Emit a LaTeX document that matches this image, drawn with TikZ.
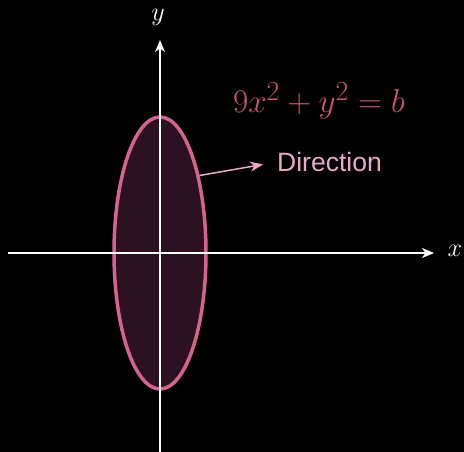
\documentclass[tikz,border=0pt]{standalone}
\usepackage{fontspec}
\setsansfont{Liberation Sans}
\usetikzlibrary{arrows.meta,shapes.geometric}
\definecolor{strokepink}{HTML}{D4648E}
\definecolor{fillplum}{HTML}{2C1120}
\definecolor{eqpink}{HTML}{C8527E}
\definecolor{lightpink}{HTML}{EBA9C9}
\begin{document}
\begin{tikzpicture}[x=1pt,y=-1pt,
  axis/.style={draw=white, line width=1.3pt, -{Stealth[length=12pt,width=10pt,inset=3.5pt]}},
  axlabel/.style={text=white, font=\Huge, inner sep=0pt},
  dirarrow/.style={draw=lightpink, line width=1.5pt, -{Stealth[length=13pt,width=10pt,inset=4pt]}}]
\fill[black] (0,0) rectangle (464,452);
\useasboundingbox (0,0) rectangle (464,452);
\node[draw=strokepink, fill=fillplum, line width=3.5pt, ellipse, minimum width=92pt, minimum height=272pt, inner sep=0pt] (ell) at (160,253) {};
\coordinate (xs) at (8,253);
\coordinate (xe) at (434,253);
\coordinate (ys) at (160,452);
\coordinate (ye) at (160,40);
\draw[axis] (xs) -- (xe);
\draw[axis] (ys) -- (ye);
\node[axlabel] (xl) at (455,251) {\scalebox{1.05}{$x$}};
\node[axlabel] (yl) at (158,17) {\scalebox{1.05}{$y$}};
\node[text=eqpink, font=\Huge, inner sep=0pt] (eq) at (319,101) {\scalebox{1.33}{$9x^2+y^2=b$}};
\node[text=lightpink, font=\sffamily\fontsize{26.5}{30}\selectfont, inner sep=0pt, anchor=west] (dir) at (277,162) {Direction};
\draw[dirarrow, shorten >=14pt] (ell.63) -- (dir.west);
\end{tikzpicture}
\end{document}
